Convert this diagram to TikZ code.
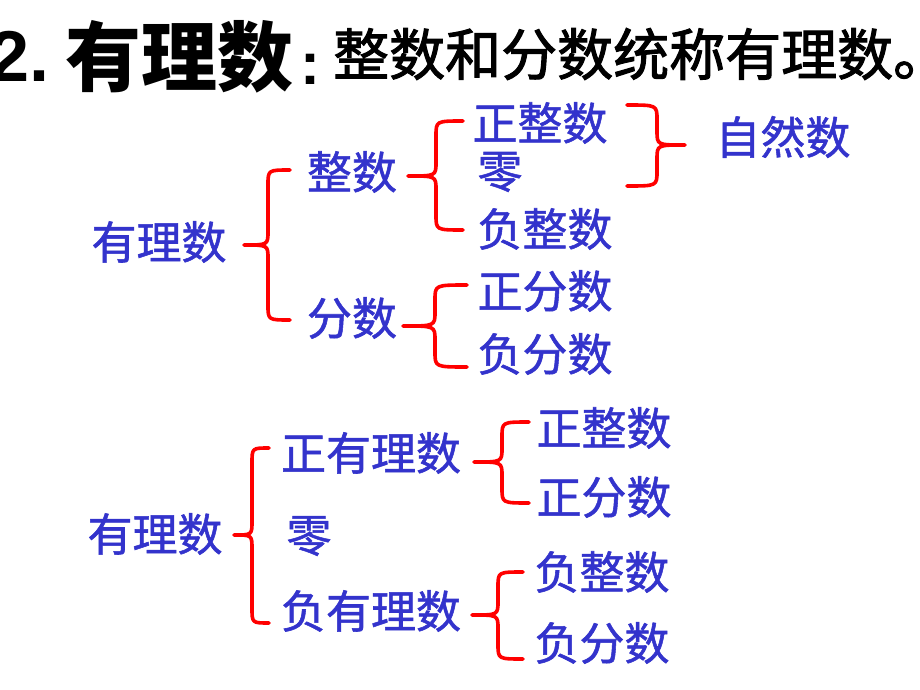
\documentclass[tikz,border=0pt]{standalone}
\usepackage{fontspec}
\setmainfont{Noto Sans CJK SC}
\newfontfamily\latinbold[BoldFont={Liberation Sans Bold}]{Liberation Sans}
\newfontfamily\bluecjk[FakeBold=1.2]{Noto Sans CJK SC}
\newfontfamily\defcjk[FakeBold=1.8]{Noto Sans CJK SC}
\definecolor{txtblue}{HTML}{3333CC}
\newcommand\openbrace[6]{% xe xv xt yt ym yb
  \draw[bracestyle] (#1,#4) .. controls (#2,#4) .. (#2,{#4+15})
    -- (#2,{#5-14}) .. controls (#2,#5) .. (#3,#5)
    .. controls (#2,#5) .. (#2,{#5+14})
    -- (#2,{#6-15}) .. controls (#2,#6) .. (#1,#6);}
\begin{document}
\begin{tikzpicture}[x=1pt,y=-1pt,
  bracestyle/.style={red, line width=3.6pt, line cap=round, line join=round},
  lbl/.style={text=txtblue, inner sep=0pt, font=\bluecjk\fontsize{45}{45}\selectfont},
  ttl/.style={text=black, inner sep=0pt}]
\useasboundingbox (0,0) rectangle (920,690);
\fill[white] (0,0) rectangle (920,690);
% title
\node[ttl, anchor=base west, font=\latinbold\bfseries\fontsize{72}{72}\selectfont] (num) at (-11,82) {2.};
\node[ttl, anchor=west, font=\bfseries\fontsize{76}{76}\selectfont] (head) at (65,57) {有理数};
\node[ttl, anchor=base, font=\latinbold\bfseries\fontsize{60}{60}\selectfont] (colon) at (310,85) {:};
\node[ttl, anchor=west, font=\defcjk\fontsize{56}{56}\selectfont] (defn) at (333,54) {整数和分数统称有理数。};
% upper classification
\node[lbl] (a0) at (159,242) {有理数};
\node[lbl] (a1) at (352,172) {整数};
\node[lbl] (a2) at (352,318) {分数};
\node[lbl] (a11) at (540,123) {正整数};
\node[lbl] (a12) at (500,172) {零};
\node[lbl] (a13) at (545,229) {负整数};
\node[lbl] (a21) at (545,291) {正分数};
\node[lbl] (a22) at (545,354) {负分数};
\node[lbl] (nat) at (783,137) {自然数};
\openbrace{290}{268}{244}{170}{245}{320}
\openbrace{463}{436}{408}{121}{176}{230}
\openbrace{467}{435}{403}{285}{326}{367}
\openbrace{627}{657}{685}{105}{145}{186}
% lower classification
\node[lbl] (b0) at (155,534) {有理数};
\node[lbl] (b1) at (371,453) {正有理数};
\node[lbl] (b2) at (309,536) {零};
\node[lbl] (b3) at (371,611) {负有理数};
\node[lbl] (b11) at (604,428) {正整数};
\node[lbl] (b12) at (604,497) {正分数};
\node[lbl] (b31) at (602,572) {负整数};
\node[lbl] (b32) at (602,643) {负分数};
\openbrace{269}{252}{234}{448}{535}{623}
\openbrace{529}{502}{474}{422}{462}{503}
\openbrace{523}{498}{472}{572}{615}{659}
\end{tikzpicture}
\end{document}
